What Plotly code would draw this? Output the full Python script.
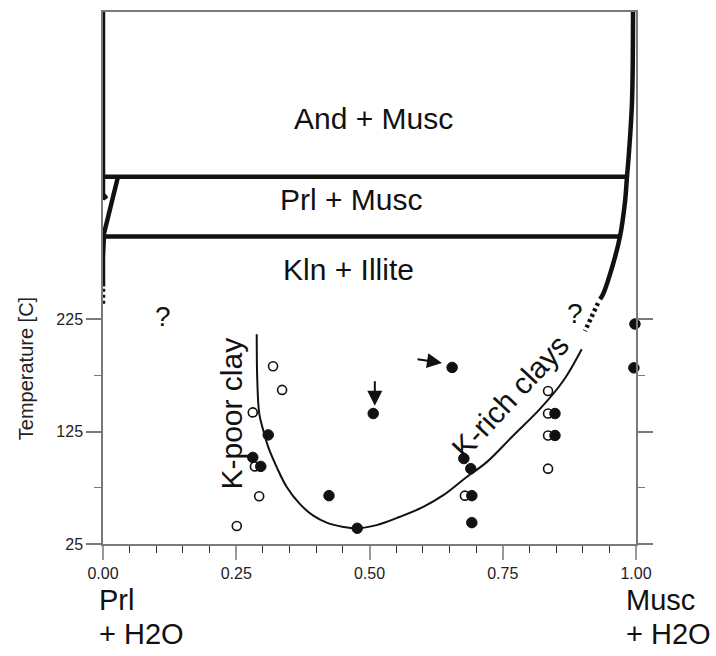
import plotly.graph_objects as go

# ---- axes ----
x_ticks = [0.0, 0.25, 0.5, 0.75, 1.0]
x_tick_text = ["0.00", "0.25", "0.50", "0.75", "1.00"]
x_minor = [0.05, 0.10, 0.15, 0.20, 0.30, 0.35, 0.40, 0.45, 0.55, 0.60,
           0.65, 0.70, 0.80, 0.85, 0.90, 0.95]
y_ticks = [25, 125, 225]
y_tick_text = ["25", "125", "225"]
y_minor = [75, 175]

# ---- samples (Musc fraction, temperature) ----
open_x = [0.319, 0.336, 0.281, 0.285, 0.293, 0.251, 0.679, 0.835, 0.835, 0.835, 0.835]
open_y = [183, 162, 142, 94, 67.5, 41, 68, 161, 141, 121.5, 92]
filled_x = [0.281, 0.296, 0.310, 0.424, 0.477, 0.507, 0.655, 0.677, 0.690,
            0.692, 0.692, 0.848, 0.848, 0.998, 0.996]
filled_y = [102, 94, 122, 68, 39, 141, 182, 101, 92, 68, 44, 141, 121.5, 220.6, 181.6]

# ---- clay solvus ----
solvus_x = [0.2884, 0.2895, 0.2932, 0.3008, 0.3101, 0.3259, 0.3447, 0.3696,
            0.3946, 0.4197, 0.4508, 0.4760, 0.5135, 0.5572, 0.6009, 0.6385,
            0.6824, 0.7199, 0.7698, 0.8199, 0.8636, 0.8981]
solvus_y = [211.5, 170.1, 140.7, 125.9, 111.1, 93.4, 75.7, 60.4,
            50.2, 44.0, 40.2, 38.9, 41.8, 49.2, 58.0, 68.4,
            84.6, 97.8, 121.5, 145.1, 170.1, 198.2]

# ---- phase boundaries ----
and_prl_x = [0.0, 0.983]
and_prl_y = [351.5, 351.5]
prl_kln_x = [0.0, 0.970]
prl_kln_y = [298.5, 298.5]
left_top_x = [0.0, 0.0, 0.0075]
left_top_y = [498, 332.1, 334.7]
left_diag_x = [0.0281, 0.0019, 0.0, 0.0]
left_diag_y = [351.5, 301.1, 280, 254]
left_dot_x = [0.0, 0.0]
left_dot_y = [252, 236]
right_x = [0.9944, 0.9925, 0.9869, 0.9831, 0.9794, 0.9700, 0.9568, 0.9381, 0.9325]
right_y = [498, 417.9, 373.7, 351.5, 329.4, 298.5, 273.7, 247.1, 242.7]
right_dot_x = [0.9287, 0.9174, 0.9043]
right_dot_y = [239.2, 227.7, 214.4]

FONT = "Liberation Sans, Arial, Helvetica, sans-serif"
INK = "#111111"

fig = go.Figure()


def boundary(xs, ys, width=4.5, dash="solid", shape="linear"):
    fig.add_trace(go.Scatter(
        x=xs, y=ys, mode="lines", cliponaxis=False, hoverinfo="skip",
        line=dict(color=INK, width=width, dash=dash, shape=shape),
        showlegend=False))


boundary(and_prl_x, and_prl_y)
boundary(prl_kln_x, prl_kln_y)
boundary(left_top_x, left_top_y)
boundary(left_diag_x, left_diag_y)
boundary(left_dot_x, left_dot_y, dash="3px,3px")
boundary(right_x, right_y, shape="spline")
boundary(right_dot_x, right_dot_y, dash="3px,3px")
boundary(solvus_x, solvus_y, width=2, shape="spline")

fig.add_trace(go.Scatter(
    x=open_x, y=open_y, mode="markers", cliponaxis=False, hoverinfo="skip",
    marker=dict(symbol="circle", size=9, color="white",
                line=dict(color=INK, width=1.6)),
    showlegend=False))
fig.add_trace(go.Scatter(
    x=filled_x, y=filled_y, mode="markers", cliponaxis=False, hoverinfo="skip",
    marker=dict(symbol="circle", size=10.5, color=INK,
                line=dict(color=INK, width=1)),
    showlegend=False))

ann = []


def label(text, x, y, size=30, angle=0):
    ann.append(dict(text=text, x=x, y=y, showarrow=False, textangle=angle,
                    xanchor="center", yanchor="middle",
                    font=dict(family=FONT, size=size, color=INK)))


def paper_label(text, x, y, size, angle=0, xanchor="left", color=INK):
    ann.append(dict(text=text, x=x, y=y, xref="paper", yref="paper",
                    showarrow=False, textangle=angle, xanchor=xanchor,
                    yanchor="middle", font=dict(family=FONT, size=size, color=color)))


label("And + Musc", 0.507, 403)
label("Prl + Musc", 0.467, 331)
label("Kln + Illite", 0.460, 269)
label("?", 0.113, 227, size=28)
label("?", 0.886, 230, size=28)
label("K-poor clay", 0.242, 141, angle=-90)
label("K-rich clays", 0.764, 156, angle=-47)

# arrows pointing at the two highlighted samples
ann.append(dict(x=0.510, y=148, ax=0, ay=-26, showarrow=True, arrowhead=2,
                arrowsize=1.5, arrowwidth=2, arrowcolor=INK, text=""))
ann.append(dict(x=0.636, y=186, ax=-26, ay=-4, showarrow=True, arrowhead=2,
                arrowsize=1.5, arrowwidth=2, arrowcolor=INK, text=""))

# end-member labels below the composition axis
paper_label("Prl", -0.012, -0.105, 29)
paper_label("+ H2O", -0.012, -0.170, 29)
paper_label("Musc", 0.977, -0.105, 29)
paper_label("+ H2O", 0.977, -0.170, 29)
# vertical axis title
paper_label("Temperature [C]", -0.143, 0.33, 20, angle=-90, xanchor="center",
            color="#222222")

fig.update_layout(
    width=716, height=656,
    margin=dict(l=103, r=80, t=10, b=112),
    paper_bgcolor="white", plot_bgcolor="white",
    annotations=ann,
    xaxis=dict(range=[0, 1], tickvals=x_ticks, ticktext=x_tick_text,
               ticks="outside", ticklen=14, tickwidth=2, tickcolor="#9a9a9a",
               showline=True, linecolor="#7a7a7a", linewidth=1.5, mirror=True,
               showgrid=False, zeroline=False,
               tickfont=dict(family=FONT, size=16, color="#222222"),
               minor=dict(tickvals=x_minor, ticks="outside", ticklen=7,
                          tickwidth=1, tickcolor="#333333", showgrid=False)),
    yaxis=dict(range=[25, 498], tickvals=y_ticks, ticktext=y_tick_text,
               ticks="outside", ticklen=15, tickwidth=1.5, tickcolor="#7a7a7a",
               showline=True, linecolor="#7a7a7a", linewidth=1.5, mirror="ticks",
               showgrid=False, zeroline=False,
               tickfont=dict(family=FONT, size=16, color="#222222"),
               minor=dict(tickvals=y_minor, ticks="outside", ticklen=7,
                          tickwidth=1.2, tickcolor="#7a7a7a", showgrid=False)),
)

fig.write_html("out.html")
